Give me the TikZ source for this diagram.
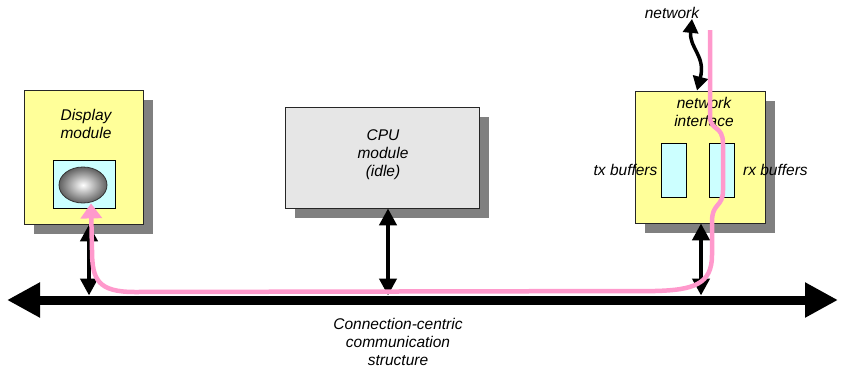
\documentclass[tikz,border=0pt]{standalone}
\usepackage{fontspec}
\setmainfont{Liberation Sans}
\usetikzlibrary{positioning,shadows,shapes.geometric,arrows.meta}

\definecolor{boxyellow}{HTML}{FFFF99}
\definecolor{boxcyan}{HTML}{CCFFFF}
\definecolor{boxgray}{HTML}{E6E6E6}
\definecolor{shadowgray}{HTML}{808080}
\definecolor{flowpink}{HTML}{FF99CC}

\tikzset{
	module/.style={draw=black!85, line width=0.8pt, fill=#1, inner sep=0pt,
		drop shadow={shadow xshift=10pt, shadow yshift=-10pt, fill=shadowgray, opacity=1}},
	buffer/.style={draw=black, line width=0.8pt, fill=boxcyan, inner sep=0pt,
		minimum width=25pt, minimum height=54pt},
	lbl/.style={font=\fontsize{15.5}{18}\selectfont\itshape, align=center, inner sep=0pt},
	link/.style={line width=4.5pt, {Triangle[length=17pt,width=17pt]}-{Triangle[length=17pt,width=17pt]}},
	bus/.style={line width=9pt, {Triangle[length=33pt,width=33pt]}-{Triangle[length=33pt,width=33pt]}},
	wave/.style={line width=3.5pt, {Triangle[length=14pt,width=15pt]}-{Triangle[length=14pt,width=15pt]}},
	flow/.style={draw=flowpink, line width=4.5pt, -{Triangle[length=15pt,width=21pt]}}
}

\begin{document}
\begin{tikzpicture}[x=1pt, y=-1pt]
	\useasboundingbox (0,0) rectangle (842,370);

	% modules
	\node (disp) [module=boxyellow, minimum width=119pt, minimum height=134pt] at (83.5,157) {};
	\node (cpu) [module=boxgray, minimum width=194pt, minimum height=101pt] at (382,157.5) {};
	\node (ni) [module=boxyellow, minimum width=130pt, minimum height=132pt] at (700,157) {};

	\node (screen) [draw=black, line width=0.8pt, fill=boxcyan, inner sep=0pt, minimum width=62pt, minimum height=48pt] at (84,184) {};
	\node (ball) [ellipse, draw=black!80, line width=0.8pt, inner sep=0pt, minimum width=48pt, minimum height=36pt,
		inner color=white, outer color=black!62] at (83,185) {};

	\node (tx) [buffer] at (673.5,170) {};
	\node (rx) [buffer] at (722,170) {};

	% labels
	\node (displbl) [lbl] at (86,124) {Display\\module};
	\node (cpulbl) [lbl] at (383,155) {CPU\\module\\(idle)};
	\node (nilbl) [lbl] at (704,112) {network\\interface};
	\node (netlbl) [lbl] at (672,13) {network};
	\node (txlbl) [lbl, left=3pt of tx] {tx buffers};
	\node (rxlbl) [lbl, right=8pt of rx] {rx buffers};
	\node (buslbl) [lbl] at (398,342) {Connection-centric\\communication\\structure};

	% bus and links
	\coordinate (busL) at (7,300);
	\coordinate (busR) at (838,300);
	\coordinate (bustop) at (0,295.5);
	\draw[bus] (busL) -- (busR);

	\draw[link] ([xshift=5.5pt]disp.south) -- ([xshift=5.5pt]disp.south |- bustop);
	\draw[link] ([xshift=6pt]cpu.south) -- ([xshift=6pt]cpu.south |- bustop);
	\draw[link] ([xshift=1pt]ni.south) -- ([xshift=1pt]ni.south |- bustop);

	\draw[wave] ([xshift=20pt]netlbl.south) .. controls (689,48) and (706,56) .. ([xshift=-3pt]ni.north);

	% data path
	\coordinate (nettop) at (710,30);
	\draw[flow] (nettop) -- (710,116) .. controls (710,132) and (723,124) .. (723,144) -- (723,190)
		.. controls (723,208) and (712,202) .. (712,222) -- (712,255)
		.. controls (712,284) and (694,290) .. (655,291) -- (135,292)
		.. controls (98,292) and (92,280) .. (92,250) -- ([xshift=8pt]ball.south);
\end{tikzpicture}
\end{document}
